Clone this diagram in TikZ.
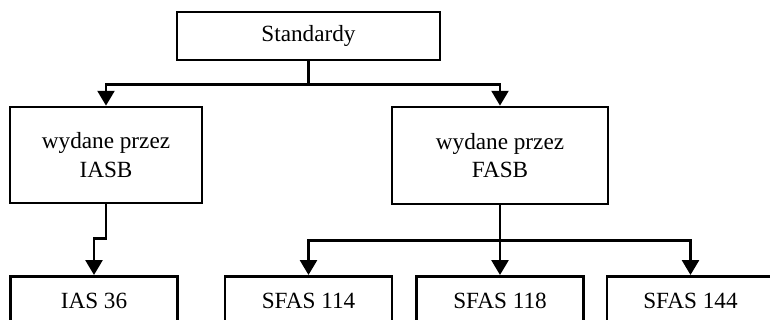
\documentclass[tikz,border=0pt]{standalone}
\usepackage{fontspec}
\setmainfont{Liberation Serif}
\usepackage{tikz}
\usetikzlibrary{arrows.meta,positioning}

\tikzset{
  stdbox/.style={draw, line width=1.9pt, inner sep=0pt, align=center,
    font=\fontsize{16.5}{20.5}\selectfont},
  arr/.style={line width=1.9pt, -{Triangle[width=0.42cm,length=0.37cm]}}
}

\begin{document}
\begin{tikzpicture}[x=0.025cm, y=-0.025cm]
\useasboundingbox (0,0) rectangle (770,320);
\clip (0,0) rectangle (770,320);

\node [stdbox, minimum width=263*0.025cm, minimum height=48*0.025cm] (std) at (308.5,36) {Standardy};
\node [stdbox, minimum width=192*0.025cm, minimum height=96*0.025cm] (iasb) at (106,155) {wydane przez\\IASB};
\node [stdbox, minimum width=216*0.025cm, minimum height=97*0.025cm] (fasb) at (500,155.5) {wydane przez\\FASB};

\foreach \x/\name/\txt in {94/ias36/{IAS 36},308.5/sfasA/{SFAS 114},500/sfasB/{SFAS 118},690.5/sfasC/{SFAS 144}}{
 \node [stdbox, anchor=north, minimum width=167*0.025cm, minimum height=50*0.025cm] (\name) at (\x,275) {\txt};
 }

\draw [arr] (std.south) -- ++(0,23) -| (iasb.north);
\draw [arr] (std.south) -- ++(0,23) -| (fasb.north);

\draw [arr] (iasb.south) -- ++(0,34) -| (ias36.north);

\draw [arr] (fasb.south) -- ++(0,35) -| (sfasA.north);
\draw [arr] (fasb.south) -- (sfasB.north);
\draw [arr] (fasb.south) -- ++(0,35) -| (sfasC.north);
\end{tikzpicture}
\end{document}
